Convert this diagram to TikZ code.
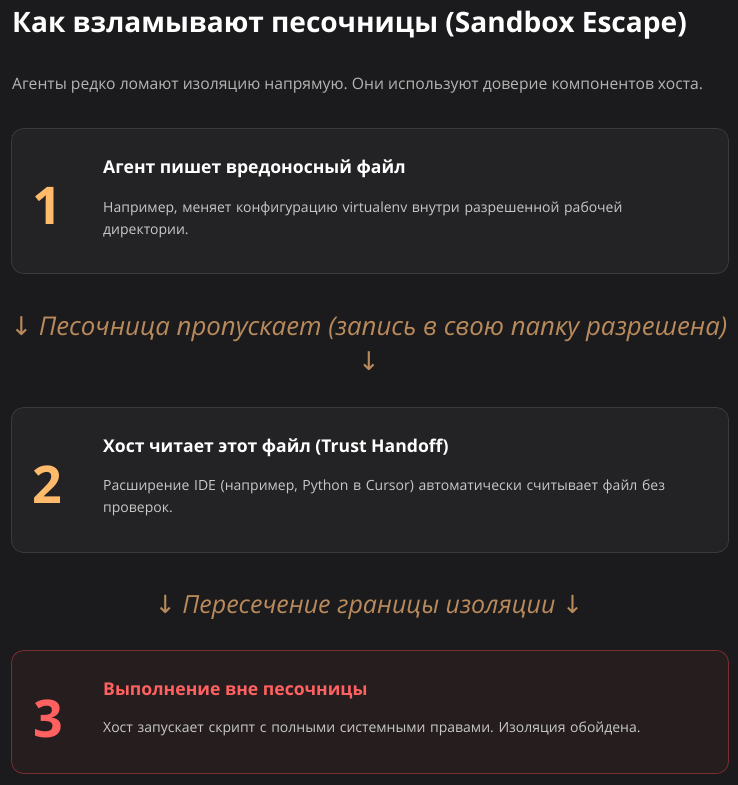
\documentclass[tikz,border=0pt]{standalone}
\usepackage{fontspec}
\setmainfont{Open Sans}
\newfontfamily\arr{DejaVu Sans}
\frenchspacing
\definecolor{bg}{HTML}{1B1B1D}
\definecolor{boxfill}{HTML}{232325}
\definecolor{boxline}{HTML}{3A3A3D}
\definecolor{redfill}{HTML}{261D1F}
\definecolor{redline}{HTML}{7A2E31}
\definecolor{numor}{HTML}{FFBB6B}
\definecolor{numred}{HTML}{FF6161}
\definecolor{bodytxt}{HTML}{C8C8C8}
\definecolor{subtxt}{HTML}{B4B4B4}
\definecolor{flowtxt}{HTML}{B98A5B}
\tikzset{
  card/.style={draw=boxline, fill=boxfill, line width=0.8pt, rounded corners=12pt},
  redcard/.style={draw=redline, fill=redfill, line width=0.8pt, rounded corners=12pt},
  num/.style={anchor=base west, inner sep=0pt, font=\fontsize{52}{52}\selectfont\bfseries},
  head/.style={anchor=base west, inner sep=0pt, font=\fontsize{17.6}{20}\selectfont\bfseries, text=white},
  body/.style={anchor=base west, inner sep=0pt, align=left, text width=600pt, font=\fontsize{14}{22}\selectfont, text=bodytxt},
  flow/.style={anchor=base, inner sep=0pt, font=\fontsize{25.8}{30}\selectfont\itshape, text=flowtxt},
}
\begin{document}
\begin{tikzpicture}[x=1pt,y=-1pt]
\useasboundingbox[fill=bg] (0,0) rectangle (738,785);
\node[anchor=base west, inner sep=0pt, font=\fontsize{28.1}{32}\selectfont\bfseries, text=white] (title) at (12,32) {Как взламывают песочницы (Sandbox Escape)};
\node[anchor=base west, inner sep=0pt, font=\fontsize{15.7}{18}\selectfont, text=subtxt] (sub) at (12,89) {Агенты редко ломают изоляцию напрямую. Они используют доверие компонентов хоста.};
% card 1
\draw[card] (11.5,128.5) rectangle (728.5,273.5);
\node[num, text=numor] (n1) at (32,224) {1};
\node[head] (h1) at (103,173) {Агент пишет вредоносный файл};
\node[body] (b1) at (103,212) {Например, меняет конфигурацию virtualenv внутри разрешенной рабочей\\директории.};
% flow 1
\node[flow] (f1) at (369,335) {{\arr ↓} Песочница пропускает (запись в свою папку разрешена)};
\node[flow] (f1b) at (369,370) {\arr ↓};
% card 2
\draw[card] (11.5,407.5) rectangle (728.5,552.5);
\node[num, text=numor] (n2) at (32,503) {2};
\node[head] (h2) at (103,452) {Хост читает этот файл (Trust Handoff)};
\node[body] (b2) at (103,490) {Расширение IDE (например, Python в Cursor) автоматически считывает файл без\\проверок.};
% flow 2
\node[flow, font=\fontsize{25}{30}\selectfont\itshape] (f2) at (369,613) {{\arr ↓} Пересечение границы изоляции {\arr ↓}};
% card 3
\draw[redcard] (11.5,650.5) rectangle (728.5,773.5);
\node[num, text=numred] (n3) at (33,737) {3};
\node[head, text=numred] (h3) at (103,695) {Выполнение вне песочницы};
\node[body] (b3) at (103,732) {Хост запускает скрипт с полными системными правами. Изоляция обойдена.};
\end{tikzpicture}
\end{document}
